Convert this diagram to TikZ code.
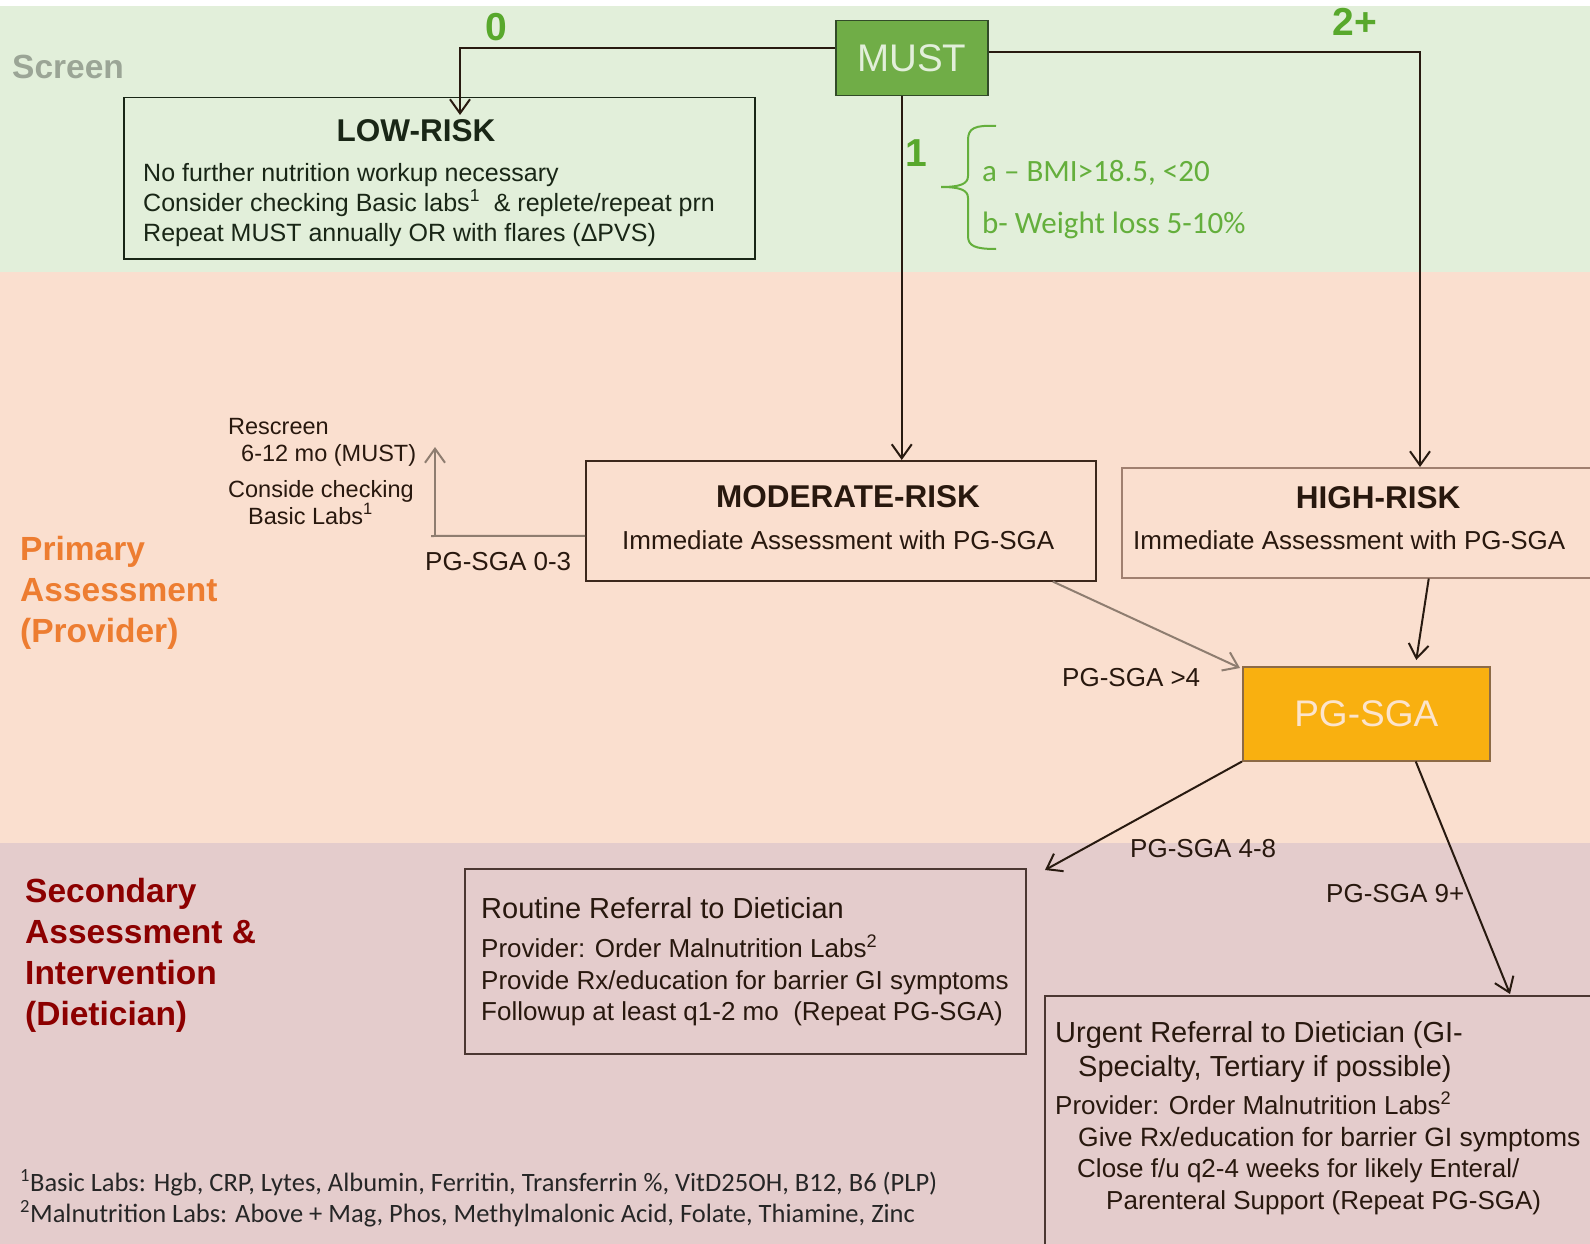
\documentclass[tikz,border=0pt]{standalone}
\usepackage{fontspec}
\setmainfont{Liberation Sans}
\newfontfamily\calib{Carlito}
\usetikzlibrary{arrows.meta}
\definecolor{screenbg}{RGB}{226,239,218}
\definecolor{primbg}{RGB}{250,223,207}
\definecolor{secbg}{RGB}{228,204,204}
\definecolor{mustgreen}{RGB}{112,173,71}
\definecolor{mustborder}{RGB}{50,75,40}
\definecolor{musttext}{RGB}{226,239,218}
\definecolor{lightgreen}{RGB}{100,175,60}
\definecolor{numgreen}{RGB}{88,168,44}
\definecolor{screengray}{RGB}{155,165,150}
\definecolor{orangelab}{RGB}{237,125,49}
\definecolor{redlab}{RGB}{140,0,0}
\definecolor{inkgreen}{RGB}{25,38,22}
\definecolor{ink}{RGB}{40,24,14}
\definecolor{darkline}{RGB}{40,26,16}
\definecolor{grayline}{RGB}{142,125,112}
\definecolor{pgfill}{RGB}{249,176,16}
\definecolor{pgborder}{RGB}{140,106,70}
\definecolor{pgtext}{RGB}{252,228,204}
\definecolor{modborder}{RGB}{60,40,28}
\definecolor{highborder}{RGB}{160,128,112}
\definecolor{secborder}{RGB}{75,55,50}
\newcommand{\fsz}[1]{\fontsize{#1}{#1}\selectfont}
\begin{document}
\begin{tikzpicture}[x=1pt,y=-1pt,
  box/.style={draw, line width=1.5pt, anchor=north west, inner sep=0pt},
  txt/.style={anchor=base west, inner sep=0pt, text=ink},
  ctxt/.style={anchor=base, inner sep=0pt, text=ink},
  conn/.style={draw=darkline, line width=2pt, -{Straight Barb[length=14pt,width=20pt]}},
  gconn/.style={draw=grayline, line width=2pt, -{Straight Barb[length=14pt,width=20pt]}},
  body/.style={font=\fsz{26}},
  lowbody/.style={font=\fsz{25}},
  title/.style={font=\bfseries\fsz{31.5}},
  small/.style={font=\fsz{23.5}},
  pglab/.style={font=\fsz{26}},
  num/.style={anchor=base, inner sep=0pt, text=numgreen, font=\bfseries\fsz{39}},
  side/.style={anchor=base west, inner sep=0pt, font=\bfseries\fsz{33.5}}
]
\useasboundingbox (0,0) rectangle (1590,1244);
\clip (0,0) rectangle (1590,1244);
% bands
\fill[white] (0,0) rectangle (1590,1244);
\fill[screenbg] (0,6) rectangle (1590,272);
\fill[primbg] (0,272) rectangle (1590,843);
\fill[secbg] (0,843) rectangle (1590,1244);

% side labels
\node[side, text=screengray] (scr) at (12,79) {Screen};
\node[side, text=orangelab] (pa1) at (20,560) {Primary};
\node[side, text=orangelab] (pa2) at (20,601) {Assessment};
\node[side, text=orangelab] (pa3) at (20,642) {(Provider)};
\node[side, text=redlab] (sa1) at (25,902) {Secondary};
\node[side, text=redlab] (sa2) at (25,943) {Assessment \&};
\node[side, text=redlab] (sa3) at (25,984) {Intervention};
\node[side, text=redlab] (sa4) at (25,1025) {(Dietician)};

% boxes
\node[box, draw=mustborder, fill=mustgreen, minimum width=152pt, minimum height=75pt,
      text=musttext, font=\fsz{38.5}] (must) at (835,20) {MUST};
\node[box, draw=inkgreen, minimum width=631pt, minimum height=161pt] (low) at (123,97) {};
\node[box, draw=modborder, minimum width=510pt, minimum height=120pt] (mod) at (585,460) {};
\node[box, draw=highborder, minimum width=520pt, minimum height=110pt] (high) at (1121,467) {};
\node[box, draw=pgborder, fill=pgfill, minimum width=247pt, minimum height=94pt,
      text=pgtext, font=\fsz{37}] (pgsga) at (1242,666) {PG-SGA};
\node[box, draw=secborder, minimum width=561pt, minimum height=185pt] (rout) at (464,868) {};
\node[box, draw=secborder, minimum width=600pt, minimum height=300pt] (urg) at (1044,995) {};

% low-risk text
\node[ctxt, text=inkgreen, title] (lowt) at (416,142) {LOW-RISK};
\node[txt, text=inkgreen, lowbody] (low1) at (143,181) {No further nutrition workup necessary};
\node[txt, text=inkgreen, lowbody] (low2) at (143,211) {Consider checking Basic labs\textsuperscript{1}\ \ \& replete/repeat prn};
\node[txt, text=inkgreen, lowbody] (low3) at (143,241) {Repeat MUST annually OR with flares (ΔPVS)};

% moderate / high
\node[ctxt, title] (modt) at (848,507) {MODERATE-RISK};
\node[txt, body] (mod1) at (622,549) {Immediate Assessment with PG-SGA};
\node[ctxt, title] (hight) at (1378,508) {HIGH-RISK};
\node[txt, body] (high1) at (1133,549) {Immediate Assessment with PG-SGA};

% routine
\node[txt, font=\fsz{29}] (r1) at (481,918) {Routine Referral to Dietician};
\node[txt, pglab] (r2) at (481,957) {Provider: Order Malnutrition Labs\textsuperscript{2}};
\node[txt, pglab] (r3) at (481,989) {Provide Rx/education for barrier GI symptoms};
\node[txt, pglab] (r4) at (481,1020) {Followup at least q1-2 mo\ \ (Repeat PG-SGA)};

% urgent
\node[txt, font=\fsz{29}] (u1) at (1055,1042) {Urgent Referral to Dietician (GI-};
\node[txt, font=\fsz{29}] (u2) at (1078,1076) {Specialty, Tertiary if possible)};
\node[txt, pglab] (u3) at (1055,1114) {Provider: Order Malnutrition Labs\textsuperscript{2}};
\node[txt, font=\fsz{26.5}] (u4) at (1078,1146) {Give Rx/education for barrier GI symptoms};
\node[txt, pglab] (u5) at (1077,1177) {Close f/u q2-4 weeks for likely Enteral/};
\node[txt, pglab] (u6) at (1106,1209) {Parenteral Support (Repeat PG-SGA)};

% left small labels
\node[txt, small] (rs1) at (228,434) {Rescreen};
\node[txt, small] (rs2) at (241,461) {6-12 mo (MUST)};
\node[txt, small] (rs3) at (228,497) {Conside checking};
\node[txt, small] (rs4) at (248,524) {Basic Labs\textsuperscript{1}};
\node[txt, pglab] (p03) at (425,570) {PG-SGA 0-3};
\node[txt, pglab] (p4) at (1062,686) {PG-SGA >4};
\node[txt, pglab] (p48) at (1130,857) {PG-SGA 4-8};
\node[txt, pglab] (p9) at (1326,902) {PG-SGA 9+};

% green numbers
\node[num] (n0) at (496,41) {0};
\node[num] (n1) at (916,167) {1};
\node[num] (n2) at (1355,36) {2+};

% brace and criteria
\draw[lightgreen, line width=2pt] (996,126) .. controls (975,125) and (968,128) .. (968,140)
  -- (968,176) .. controls (968,184) and (960,187) .. (941,187)
  .. controls (960,187) and (968,190) .. (968,198)
  -- (968,236) .. controls (968,246) and (975,249) .. (996,249);
\node[txt, text=lightgreen, font=\calib\fsz{31}] (ca) at (982,181) {a – BMI>18.5, <20};
\node[txt, text=lightgreen, font=\calib\fsz{31}] (cb) at (982,233) {b- Weight loss 5-10\%};

% footnotes
\node[txt, text=black!85, font=\calib\fsz{26.5}] (f1) at (20,1191) {\textsuperscript{1}Basic Labs: Hgb, CRP, Lytes, Albumin, Ferritin, Transferrin \%, VitD25OH, B12, B6 (PLP)};
\node[txt, text=black!85, font=\calib\fsz{26.5}] (f2) at (20,1222) {\textsuperscript{2}Malnutrition Labs: Above + Mag, Phos, Methylmalonic Acid, Folate, Thiamine, Zinc};

% connectors
\coordinate (lowin) at (460,115);
\coordinate (highin) at (1420,467);
\coordinate (rescin) at (435,447);
\coordinate (rc) at (435,536);
\coordinate (routin) at (1045,870);
\coordinate (urgin) at (1510,994);
\draw[conn] ([yshift=10pt]must.west) -| (lowin);
\draw[conn] ([yshift=6pt]must.east) -| (highin);
\draw[conn] ([xshift=-10pt]must.south) -- ([xshift=-10pt]must.south |- mod.north);
\draw[conn] ([xshift=47pt]high.south) -- ([xshift=50pt,yshift=6pt]pgsga.north);
\draw[gconn] ([xshift=212pt]mod.south) -- ([xshift=-2pt,yshift=-2pt]pgsga.north west);
\draw[grayline, line width=2pt] ([yshift=-15pt]mod.west) -- ([xshift=-4pt]rc);
\draw[gconn] (rc) -- (rescin);
\draw[conn] (pgsga.south west) -- (routin);
\draw[conn] ([xshift=49.5pt]pgsga.south) -- (urgin);
\end{tikzpicture}
\end{document}
